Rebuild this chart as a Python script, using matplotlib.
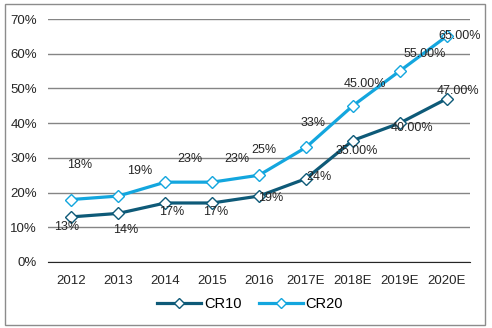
import matplotlib.pyplot as plt
from matplotlib.patches import Rectangle
from matplotlib.ticker import PercentFormatter

plt.rcParams['font.family'] = ['Liberation Sans', 'DejaVu Sans']

years = ["2012", "2013", "2014", "2015", "2016", "2017E", "2018E", "2019E", "2020E"]
cr10 = [13, 14, 17, 17, 19, 24, 35, 40, 47]
cr20 = [18, 19, 23, 23, 25, 33, 45, 55, 65]
cr10_labels = ["13%", "14%", "17%", "17%", "19%", "24%", "35.00%", "40.00%", "47.00%"]
cr20_labels = ["18%", "19%", "23%", "23%", "25%", "33%", "45.00%", "55.00%", "65.00%"]

# label offsets in pixels (dx, dy up)
off10 = [(-5, -10), (7, -17), (6, -9), (4, -9), (12, -2), (13, 2), (4, -10), (12, -5), (11, 8)]
off20 = [(8, 35), (21, 25), (25, 23), (25, 23), (5, 25), (7, 24), (12, 22), (25, 17), (13, 0)]

c10 = "#0E5A78"
c20 = "#13A6DE"

fig = plt.figure(figsize=(4.92, 3.28), dpi=100)
fig.add_artist(Rectangle((5/492, 1-325/328), 480/492, 321/328, transform=fig.transFigure,
                         fill=False, edgecolor="#8c8c8c", linewidth=1))
ax = fig.add_axes([48/492, 1-262/328, 422/492, 243/328])

x = range(len(years))
ax.plot(x, cr10, color=c10, lw=2.3, marker="D", ms=6.5, mfc="white", mec=c10, mew=1, label="CR10", zorder=3)
ax.plot(x, cr20, color=c20, lw=2.3, marker="D", ms=6.5, mfc="white", mec=c20, mew=1, label="CR20", zorder=3)

for vals, labs, offs in [(cr10, cr10_labels, off10), (cr20, cr20_labels, off20)]:
    for i, (v, t, o) in enumerate(zip(vals, labs, offs)):
        ax.annotate(t, (i, v), xytext=(o[0]*0.72, o[1]*0.72), textcoords="offset points",
                    ha="center", va="center", fontsize=9, color="#262626", zorder=4)

ax.set_xlim(-0.5, len(years)-0.5)
ax.set_ylim(0, 70)
ax.set_yticks(range(0, 71, 10))
ax.yaxis.set_major_formatter(PercentFormatter(decimals=0))
ax.set_xticks(list(x))
ax.set_xticklabels(years)
ax.grid(axis="y", color="#858585", lw=1)
ax.set_axisbelow(True)
for s in ["top", "right", "left"]:
    ax.spines[s].set_visible(False)
ax.spines["bottom"].set_color("#262626")
ax.tick_params(length=0, labelsize=9.5, colors="#262626")
ax.tick_params(axis="y", pad=8)
ax.tick_params(axis="x", pad=9)

ax.legend(loc="center", bbox_to_anchor=(250/492, 1-304/328), bbox_transform=fig.transFigure,
          ncol=2, frameon=False, fontsize=10.5, handlelength=3, columnspacing=1.2,
          handletextpad=0.2, markerscale=0.8)

fig.savefig("out.png", dpi=100)
